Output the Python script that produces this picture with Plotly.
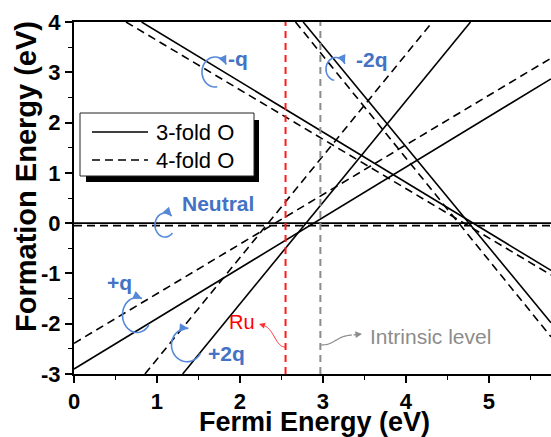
import plotly.graph_objects as go
import math

# ---------------- data ----------------
charge_states = ["+2q", "+q", "Neutral", "-q", "-2q"]

# 3-fold O : segment end points (Fermi energy, formation energy)
fold3_x0 = [1.31, 0.00, 0.00, 0.815, 2.763]
fold3_y0 = [-3.00, -2.90, 0.00, 4.00, 4.00]
fold3_x1 = [4.78, 5.75, 5.75, 5.75, 5.75]
fold3_y1 = [4.00, 2.87, 0.00, -0.94, -1.98]

# 4-fold O
fold4_x0 = [0.855, 0.00, 0.00, 0.627, 2.67]
fold4_y0 = [-3.00, -2.39, -0.05, 4.00, 4.00]
fold4_x1 = [4.32, 5.75, 5.75, 5.75, 5.75]
fold4_y1 = [4.00, 3.28, -0.05, -1.03, -2.26]

ru_level = 2.55
intrinsic_level = 2.97

x_ticks = [0, 1, 2, 3, 4, 5]
x_ticklabels = ["0", "1", "2", "3", "4", "5"]
y_ticks = [-3, -2, -1, 0, 1, 2, 3, 4]
y_ticklabels = ["-3", "-2", "-1", "0", "1", "2", "3", "4"]

X_RANGE = [0, 5.75]
Y_RANGE = [-3, 4]

# ---------------- layout geometry ----------------
W, H = 551, 437
PL, PT, PR, PB = 74, 22, 0, 63
PW, PH = W - PL - PR, H - PT - PB

FONT = "Liberation Sans, Arial, sans-serif"
BLUE_TXT = "#4472C4"
BLUE_LOOP = "#5588d8"


def X(px):
    return X_RANGE[0] + (px - PL) / PW * (X_RANGE[1] - X_RANGE[0])


def Y(py):
    return Y_RANGE[1] - (py - PT) / PH * (Y_RANGE[1] - Y_RANGE[0])


fig = go.Figure()

for xs0, ys0, xs1, ys1, dash in [
    (fold3_x0, fold3_y0, fold3_x1, fold3_y1, "solid"),
    (fold4_x0, fold4_y0, fold4_x1, fold4_y1, "8px,5px"),
]:
    for name, a, b, c, d in zip(charge_states, xs0, ys0, xs1, ys1):
        fig.add_trace(go.Scatter(
            x=[a, c], y=[b, d], mode="lines", name=name,
            line=dict(color="black", width=1.6, dash=dash),
            showlegend=False, hoverinfo="skip"))

fig.add_trace(go.Scatter(x=[ru_level, ru_level], y=Y_RANGE, mode="lines",
                         line=dict(color="#ff1a1a", width=2, dash="7px,5px"),
                         showlegend=False, hoverinfo="skip"))
fig.add_trace(go.Scatter(x=[intrinsic_level, intrinsic_level], y=Y_RANGE, mode="lines",
                         line=dict(color="#8c8c8c", width=2, dash="7px,5px"),
                         showlegend=False, hoverinfo="skip"))

shapes = []
annotations = []


def path_from_px(points):
    return "M" + " L".join(f"{X(a):.5f},{Y(b):.5f}" for a, b in points)


def loop(cx, cy, rx, ry, t0, t1, color=BLUE_LOOP):
    n = 40
    pts = []
    for i in range(n + 1):
        t = math.radians(t0 + (t1 - t0) * i / n)
        pts.append((cx + rx * math.cos(t), cy + ry * math.sin(t)))
    shapes.append(dict(type="path", path=path_from_px(pts), xref="x", yref="y",
                       line=dict(color=color, width=1.6), layer="above"))
    te = math.radians(t1)
    tip = pts[-1]
    dx, dy = -rx * math.sin(te), ry * math.cos(te)
    L = math.hypot(dx, dy)
    dx, dy = dx / L, dy / L
    annotations.append(dict(x=X(tip[0]), y=Y(tip[1]), xref="x", yref="y",
                            ax=-dx * 6, ay=-dy * 6, text="", showarrow=True,
                            arrowhead=2, arrowsize=1.1, arrowwidth=1.6,
                            arrowcolor=color))


def bezier(p0, p1, p2, p3, n=30):
    pts = []
    for i in range(n + 1):
        t = i / n
        u = 1 - t
        pts.append((u**3 * p0[0] + 3 * u * u * t * p1[0] + 3 * u * t * t * p2[0] + t**3 * p3[0],
                    u**3 * p0[1] + 3 * u * u * t * p1[1] + 3 * u * t * t * p2[1] + t**3 * p3[1]))
    return pts


def text(px, py, s, color, size, bold=True, anchor="center"):
    annotations.append(dict(x=X(px), y=Y(py), xref="x", yref="y", text=s,
                            showarrow=False, xanchor=anchor, yanchor="middle",
                            font=dict(family=FONT, size=size, color=color,
                                      weight="bold" if bold else "normal")))


# blue circular arrows + labels
loop(215, 72, 13, 15, 80, 330)
text(238, 58, "-q", BLUE_TXT, 21)
loop(336, 69, 10, 11.5, 100, 333)
text(372, 59, "-2q", BLUE_TXT, 21)
loop(165, 225, 10, 12, 42, 312)
text(218, 203, "Neutral", BLUE_TXT, 21)
loop(137, 315, 14.5, 17.5, 35, 290)
text(119, 282, "+q", BLUE_TXT, 21)
loop(187, 345, 15.5, 16.7, 30, 275)
text(226, 353, "+2q", BLUE_TXT, 21)

# Ru and intrinsic labels with curved arrows
text(242, 322, "Ru", "#ff0000", 20, bold=False)
ru_pts = bezier((285, 347), (276, 347), (274, 330), (265, 326))
shapes.append(dict(type="path", path=path_from_px(ru_pts), xref="x", yref="y",
                   line=dict(color="#ff3030", width=1), layer="above"))
annotations.append(dict(x=X(259), y=Y(324), xref="x", yref="y", ax=7, ay=2,
                        text="", showarrow=True, arrowhead=2, arrowsize=1.2,
                        arrowwidth=1, arrowcolor="#ff3030"))

text(368, 336, "Intrinsic level", "#8c8c8c", 21, bold=False, anchor="left")
in_pts = bezier((321, 345), (335, 345), (336, 336), (352, 335))
shapes.append(dict(type="path", path=path_from_px(in_pts), xref="x", yref="y",
                   line=dict(color="#8c8c8c", width=1.2), layer="above"))
annotations.append(dict(x=X(362), y=Y(334), xref="x", yref="y", ax=-10, ay=1,
                        text="", showarrow=True, arrowhead=2, arrowsize=1.1,
                        arrowwidth=1.2, arrowcolor="#8c8c8c"))

# manual legend with shadow
shapes.append(dict(type="rect", x0=X(86), x1=X(259), y0=Y(182), y1=Y(120),
                   xref="x", yref="y", fillcolor="black", line=dict(width=0), layer="above"))
shapes.append(dict(type="rect", x0=X(80), x1=X(254), y0=Y(176), y1=Y(113),
                   xref="x", yref="y", fillcolor="white",
                   line=dict(color="#222", width=1), layer="above"))
shapes.append(dict(type="line", x0=X(92), x1=X(148), y0=Y(132), y1=Y(132),
                   xref="x", yref="y", line=dict(color="black", width=1.6), layer="above"))
shapes.append(dict(type="line", x0=X(92), x1=X(148), y0=Y(160), y1=Y(160),
                   xref="x", yref="y", line=dict(color="black", width=1.6, dash="8px,5px"),
                   layer="above"))
text(154, 132, "3-fold O", "black", 22, bold=False, anchor="left")
text(154, 160, "4-fold O", "black", 22, bold=False, anchor="left")

# axis titles
annotations.append(dict(x=(314 - PL) / PW, y=-(422 - PT - PH) / PH, xref="paper", yref="paper",
                        text="Fermi Energy (eV)", showarrow=False,
                        xanchor="center", yanchor="middle",
                        font=dict(family=FONT, size=27, color="black", weight="bold")))
annotations.append(dict(x=(26 - PL) / PW, y=1 - (177 - PT) / PH, xref="paper", yref="paper",
                        text="Formation Energy (eV)", showarrow=False, textangle=-90,
                        xanchor="center", yanchor="middle",
                        font=dict(family=FONT, size=29, color="black", weight="bold")))

axis_common = dict(showgrid=False, zeroline=False, showline=True, linecolor="black",
                   linewidth=2, ticks="outside", ticklen=7, tickwidth=1.6, tickcolor="black",
                   tickfont=dict(family=FONT, size=22, color="black", weight="bold"),
                   minor=dict(ticks="outside", ticklen=4, tickwidth=1.4, tickcolor="black",
                              dtick=0.5))

fig.update_layout(
    width=W, height=H,
    margin=dict(l=PL, r=PR, t=PT, b=PB, autoexpand=False),
    paper_bgcolor="white", plot_bgcolor="white",
    xaxis=dict(range=X_RANGE, tickvals=x_ticks, ticktext=x_ticklabels, mirror=True,
               automargin=False, **axis_common),
    yaxis=dict(range=Y_RANGE, tickvals=y_ticks, ticktext=y_ticklabels,
               automargin=False, **axis_common),
    shapes=shapes,
    annotations=annotations,
    showlegend=False,
)

fig.write_html("out.html",
               config={"displayModeBar": False},
               post_script="document.body.style.margin='0px';"
                           "document.body.style.overflow='hidden';")
